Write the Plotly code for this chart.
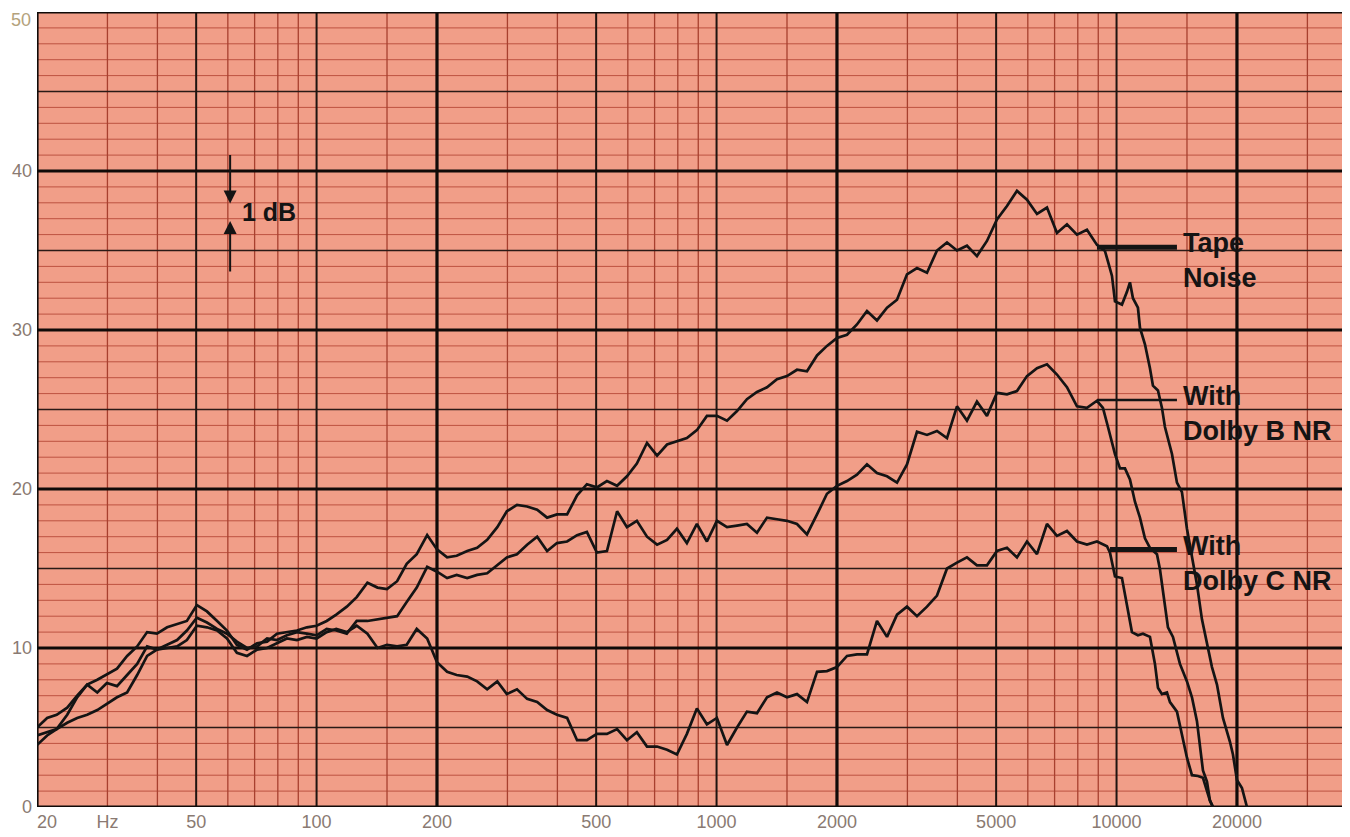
import numpy as np
import plotly.graph_objects as go

# Frequency grid (Hz) shared by the three traces up to ~9 kHz
freq_hz = [20, 21.2, 22.4, 23.8, 25.2, 26.7, 28.3, 29.9, 31.7, 33.6,
           35.6, 37.7, 39.9, 42.3, 44.8, 47.4, 50.2, 53.2, 56.4, 59.7,
           63.2, 67.0, 71.0, 75.2, 79.6, 84.3, 89.3, 94.6, 100, 106,
           112, 119, 126, 134, 142, 150, 159, 168, 178, 189,
           200, 212, 224, 238, 252, 267, 283, 299, 317, 336,
           356, 377, 399, 423, 448, 474, 502, 532, 564, 597,
           632, 670, 710, 752, 796, 843, 893, 946, 1002, 1062,
           1125, 1191, 1262, 1337, 1416, 1500, 1589, 1683, 1783, 1888,
           2000, 2119, 2244, 2377, 2518, 2668, 2826, 2993, 3170, 3358,
           3557, 3768, 3991, 4227, 4477, 4743, 5024, 5322, 5637, 5971,
           6325, 6700, 7096, 7517, 7962, 8434, 8934]

tape_db = [5.0, 5.6, 5.8, 6.25, 7.0, 7.7, 8.0, 8.35, 8.7, 9.5,
           10.1, 11.0, 10.9, 11.3, 11.5, 11.7, 12.7, 12.3, 11.7, 11.1,
           10.2, 9.9, 10.3, 10.4, 10.9, 11.0, 11.1, 11.3, 11.4, 11.7,
           12.1, 12.6, 13.2, 14.1, 13.8, 13.7, 14.2, 15.3, 15.9, 17.1,
           16.2, 15.7, 15.8, 16.1, 16.3, 16.8, 17.6, 18.6, 19.0, 18.9,
           18.7, 18.2, 18.4, 18.4, 19.6, 20.3, 20.1, 20.5, 20.2, 20.8,
           21.6, 22.9, 22.1, 22.8, 23.0, 23.2, 23.7, 24.6, 24.6, 24.3,
           24.9, 25.65, 26.1, 26.4, 26.9, 27.1, 27.5, 27.4, 28.4, 29.0,
           29.5, 29.7, 30.35, 31.2, 30.6, 31.4, 31.9, 33.5, 33.9, 33.6,
           35.0, 35.5, 35.0, 35.3, 34.65, 35.6, 36.96, 37.8, 38.75, 38.2,
           37.3, 37.7, 36.1, 36.65, 36.0, 36.3, 35.35]

dolby_b_db = [4.5, 4.7, 4.9, 5.8, 6.9, 7.7, 7.2, 7.8, 7.6, 8.3,
              9.0, 10.1, 9.9, 10.2, 10.5, 11.1, 11.9, 11.6, 11.2, 10.9,
              10.4, 10.0, 10.1, 10.6, 10.5, 10.8, 11.0, 10.9, 10.8, 11.2,
              11.1, 10.9, 11.7, 11.7, 11.8, 11.9, 12.0, 12.9, 13.8, 15.1,
              14.8, 14.4, 14.6, 14.4, 14.6, 14.7, 15.2, 15.7, 15.9, 16.5,
              17.0, 16.1, 16.6, 16.7, 17.1, 17.3, 16.0, 16.1, 18.6, 17.6,
              18.0, 17.0, 16.5, 16.8, 17.5, 16.6, 17.8, 16.7, 18.0, 17.6,
              17.7, 17.8, 17.25, 18.2, 18.1, 18.0, 17.8, 17.15, 18.4, 19.7,
              20.2, 20.5, 20.9, 21.55, 21.0, 20.8, 20.4, 21.55, 23.6, 23.4,
              23.65, 23.2, 25.2, 24.3, 25.5, 24.6, 26.05, 25.95, 26.16, 27.1,
              27.6, 27.84, 27.2, 26.4, 25.2, 25.1, 25.55]

dolby_c_db = [3.9, 4.5, 4.9, 5.3, 5.6, 5.8, 6.1, 6.5, 6.9, 7.2,
              8.3, 9.5, 9.9, 10.0, 10.1, 10.5, 11.4, 11.3, 11.1, 10.6,
              9.7, 9.5, 9.9, 10.0, 10.3, 10.6, 10.5, 10.7, 10.6, 11.0,
              11.2, 11.0, 11.4, 10.9, 10.0, 10.2, 10.1, 10.2, 11.2, 10.6,
              9.1, 8.5, 8.3, 8.2, 7.9, 7.4, 7.9, 7.1, 7.4, 6.8,
              6.6, 6.1, 5.8, 5.6, 4.2, 4.2, 4.6, 4.6, 4.9, 4.2,
              4.7, 3.8, 3.8, 3.6, 3.3, 4.6, 6.2, 5.2, 5.6, 3.9,
              5.0, 6.0, 5.9, 6.9, 7.2, 6.9, 7.1, 6.6, 8.5, 8.55,
              8.8, 9.5, 9.6, 9.6, 11.7, 10.7, 12.1, 12.6, 12.0, 12.6,
              13.3, 15.0, 15.37, 15.7, 15.2, 15.2, 16.1, 16.3, 15.7, 16.7,
              15.9, 17.8, 17.05, 17.36, 16.7, 16.5, 16.7]

# High-frequency roll-off of each trace
tape_tail_hz = [9354, 9520, 9740, 9910, 10316, 10618, 10802, 10990, 11310, 11442,
                11776, 12120, 12331, 12692, 12988, 13213, 13367, 13758, 14158, 14572,
                14998, 15436, 15886, 16350, 16828, 17320, 17826, 18452, 19210, 19544,
                20000, 20584, 21186]
tape_tail_db = [34.97, 34.3, 33.4, 31.8, 31.6, 32.4, 33.0, 32.0, 31.4, 30.15,
                29.1, 27.6, 26.5, 26.2, 25.1, 23.9, 23.4, 22.2, 20.4, 19.8,
                17.5, 15.8, 14.0, 11.8, 10.4, 8.8, 7.7, 5.6, 4.1, 3.3,
                1.7, 1.2, 0.0]

dolby_b_tail_hz = [9247, 9520, 9740, 9910, 10200, 10496, 10802, 11117, 11442, 11776,
                   12120, 12619, 12838, 13062, 13444, 13836, 14404, 14998, 15436, 15886,
                   16164, 16444, 16828, 17122, 17420]
dolby_b_tail_db = [25.1, 23.9, 23.0, 22.2, 21.3, 21.3, 20.6, 19.2, 18.2, 16.9,
                   16.3, 15.9, 14.95, 13.6, 11.3, 10.7, 9.0, 7.9, 6.9, 5.4,
                   3.9, 2.3, 1.6, 0.4, 0.0]

dolby_c_tail_hz = [9247, 9464, 9630, 9910, 10316, 10618, 10926, 11310, 11641, 12120,
                   12474, 12692, 12988, 13367, 13600, 14158, 14572, 14998, 15436, 15978,
                   16444, 16828, 17122, 17420]
dolby_c_tail_db = [16.5, 16.4, 16.0, 14.5, 14.4, 12.6, 11.0, 10.8, 10.9, 10.7,
                   9.0, 7.5, 7.1, 7.2, 6.6, 6.0, 4.6, 3.1, 2.0, 1.95,
                   1.84, 1.0, 0.4, 0.0]

# Curve labels with their leader lines
label_text = ['Tape<br>Noise', 'With<br>Dolby B NR', 'With<br>Dolby C NR']
label_db = [35.2, 25.6, 16.2]
label_text_db = [34.4, 24.75, 15.3]
leader_start_hz = [8934, 8934, 9630]
leader_end_hz = [14158, 14158, 14158]
leader_width = [5, 2.5, 5]

# Chart-paper grid
x_thick = [20, 200, 2000, 20000]
x_medium = [50, 100, 500, 1000, 5000, 10000]
x_thin = [30, 40, 60, 70, 80, 90, 150, 300, 400, 600, 700, 800, 900, 1500,
          3000, 4000, 6000, 7000, 8000, 9000, 15000, 30000]
y_thick = [0, 10, 20, 30, 40, 50]
y_medium = [5, 15, 25, 35, 45]
y_thin = [v for v in range(0, 51) if v % 5 != 0]

# first label is nudged right, as in the original print
x_tickvals = [20, 30, 50, 100, 200, 500, 1000, 2000, 5000, 10000, 20000]
x_ticktext = ['\u00a0\u00a0\u00a0\u00a020', 'Hz', '50', '100', '200', '500',
              '1000', '2000', '5000', '10000', '20000']
y_tickvals = [0, 10, 20, 30, 40]

X_MAX = 38340
BG = '#f19e88'
INK = '#141414'
LABEL_GREY = '#8a7a72'


def vlines(xs):
    x, y = [], []
    for v in xs:
        x += [v, v, None]
        y += [0, 50, None]
    return x, y


def hlines(ys):
    x, y = [], []
    for v in ys:
        x += [20, X_MAX, None]
        y += [v, v, None]
    return x, y


fig = go.Figure()

grid_styles = [
    (hlines(y_thin), '#bd5240', 1),
    (vlines(x_thin), '#a8402f', 1.3),
    (hlines(y_medium), '#2a1a16', 1.6),
    (vlines(x_medium), '#1e1410', 2),
    (hlines(y_thick), '#100a08', 3),
    (vlines(x_thick), '#100a08', 3.2),
]
for (gx, gy), color, width in grid_styles:
    fig.add_trace(go.Scatter(x=gx, y=gy, mode='lines',
                             line=dict(color=color, width=width),
                             hoverinfo='skip', showlegend=False))

series = [
    ('Tape Noise', freq_hz + tape_tail_hz, tape_db + tape_tail_db),
    ('With Dolby B NR', freq_hz + dolby_b_tail_hz, dolby_b_db + dolby_b_tail_db),
    ('With Dolby C NR', freq_hz + dolby_c_tail_hz, dolby_c_db + dolby_c_tail_db),
]
for name, fx, fy in series:
    fig.add_trace(go.Scatter(x=fx, y=fy, mode='lines', name=name,
                             line=dict(color=INK, width=2.7),
                             showlegend=False))

for i in range(len(label_text)):
    fig.add_trace(go.Scatter(x=[leader_start_hz[i], leader_end_hz[i]],
                             y=[label_db[i], label_db[i]], mode='lines',
                             line=dict(color=INK, width=leader_width[i]),
                             hoverinfo='skip', showlegend=False))
    bold = '<b>' + label_text[i].replace('<br>', '</b><br><b>') + '</b>'
    fig.add_annotation(x=np.log10(14500), y=label_text_db[i], text=bold,
                       showarrow=False, xanchor='left', yanchor='middle', align='left',
                       font=dict(family='Liberation Sans', size=27, color=INK))

# "1 dB" scale marker
fig.add_annotation(x=np.log10(60.8), y=37.95, ax=0, ay=-50, text='',
                   showarrow=True, arrowhead=2, arrowsize=1.3, arrowwidth=2,
                   arrowcolor=INK)
fig.add_annotation(x=np.log10(60.8), y=36.85, ax=0, ay=52, text='',
                   showarrow=True, arrowhead=2, arrowsize=1.3, arrowwidth=2,
                   arrowcolor=INK)
fig.add_annotation(x=np.log10(64.5), y=37.4, text='<b>1 dB</b>', showarrow=False,
                   xanchor='left', yanchor='middle',
                   font=dict(family='Liberation Sans', size=25, color=INK))

# top y label sits just under the frame in the original
fig.add_annotation(xref='paper', x=0, xshift=-4, y=49.5, text='50', showarrow=False,
                   xanchor='right', yanchor='middle',
                   font=dict(family='Liberation Sans', size=18, color='#b4a27c'))

# the page body adds an 8px offset, so the figure is sized to fit the window
fig.update_layout(
    width=1342, height=829,
    margin=dict(l=29, r=0, t=4, b=30, autoexpand=False),
    paper_bgcolor='white',
    plot_bgcolor=BG,
    hovermode=False,
    showlegend=False,
    xaxis=dict(type='log', range=[np.log10(20), np.log10(X_MAX)],
               showgrid=False, zeroline=False, showline=False, ticks='',
               tickvals=x_tickvals, ticktext=x_ticktext, ticklabelstandoff=2,
               tickfont=dict(family='Liberation Sans', size=18, color=LABEL_GREY)),
    yaxis=dict(range=[0, 50], showgrid=False, zeroline=False, showline=False,
               ticks='', tickvals=y_tickvals, ticklabelstandoff=4,
               tickfont=dict(family='Liberation Sans', size=18, color=LABEL_GREY)),
)

fig.write_html('out.html')
